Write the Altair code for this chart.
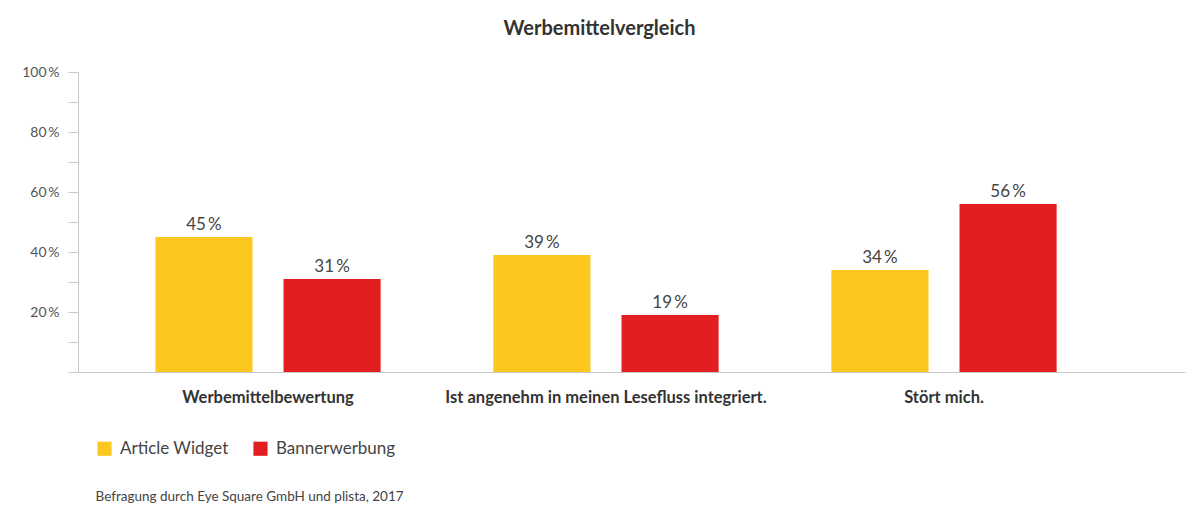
import altair as alt
import pandas as pd

categories = ["Werbemittelbewertung", "Ist angenehm in meinen Lesefluss integriert.", "Stört mich."]
series = ["Article Widget", "Bannerwerbung"]
article_widget = [45, 39, 34]
bannerwerbung = [31, 19, 56]
colors = ["#FCC81F", "#E31E20"]

rows = []
for i, c in enumerate(categories):
    rows.append({"Kategorie": c, "Serie": series[0], "Wert": article_widget[i]})
    rows.append({"Kategorie": c, "Serie": series[1], "Wert": bannerwerbung[i]})
df = pd.DataFrame(rows)

FONT = "Lato"

x_enc = alt.X(
    "Kategorie:N",
    sort=categories,
    scale=alt.Scale(paddingInner=0, paddingOuter=0.1376, align=0.226),
    axis=alt.Axis(
        title="Befragung durch Eye Square GmbH und plista, 2017",
        titleX=17, titleY=128, titleAnchor="start", titleAlign="left",
        titleBaseline="alphabetic", titleFont=FONT, titleFontSize=13.5,
        titleFontWeight="normal", titleColor="#444",
        labelAngle=0, labelFont=FONT, labelFontSize=16.5, labelFontWeight="bold",
        labelColor="#333", labelPadding=17, labelLimit=0, ticks=False,
        domainColor="#c8c8c8", domainWidth=1,
    ),
)
xoff = alt.XOffset("Serie:N", sort=series,
                   scale=alt.Scale(paddingInner=0.242, paddingOuter=0.44))
y_enc = alt.Y(
    "Wert:Q",
    scale=alt.Scale(domain=[0, 100], nice=False),
    axis=alt.Axis(
        title=None, values=list(range(0, 101, 10)),
        labelExpr="(datum.value % 20 == 0 && datum.value > 0) ? datum.value + '\u2009%' : ''",
        labelFont=FONT, labelFontSize=14, labelColor="#555", labelPadding=9,
        tickSize=10, tickColor="#c8c8c8", domainColor="#c8c8c8", grid=False,
    ),
)
color_enc = alt.Color(
    "Serie:N", sort=series,
    scale=alt.Scale(domain=series, range=colors),
    legend=alt.Legend(
        title=None, orient="none", legendX=18, legendY=368, direction="horizontal",
        symbolType="square", symbolSize=200, symbolStrokeWidth=0,
        labelFont=FONT, labelFontSize=17, labelColor="#444", labelOffset=7,
        columnPadding=23, padding=0,
    ),
)

base = alt.Chart(df).encode(x=x_enc, xOffset=xoff, y=y_enc)
bars = base.mark_bar().encode(color=color_enc)
labels = base.transform_calculate(
    lab="datum.Wert + '\u2009%'"
).mark_text(font=FONT, fontSize=17, color="#444", baseline="alphabetic", dy=-7).encode(
    text="lab:N"
)

chart = alt.layer(bars, labels).properties(
    width=1107, height=300,
    background="white",
    autosize=alt.AutoSizeParams(type="none"),
    padding={"left": 70, "top": 64, "right": 7, "bottom": 138},
    title=alt.TitleParams(
        "Werbemittelvergleich", font=FONT, fontSize=20, fontWeight="bold",
        color="#333", anchor="middle", dx=-32, offset=26,
    ),
).configure_view(strokeOpacity=0, strokeWidth=0)

chart.save("out.html", embed_options={"renderer": "svg", "actions": False})
